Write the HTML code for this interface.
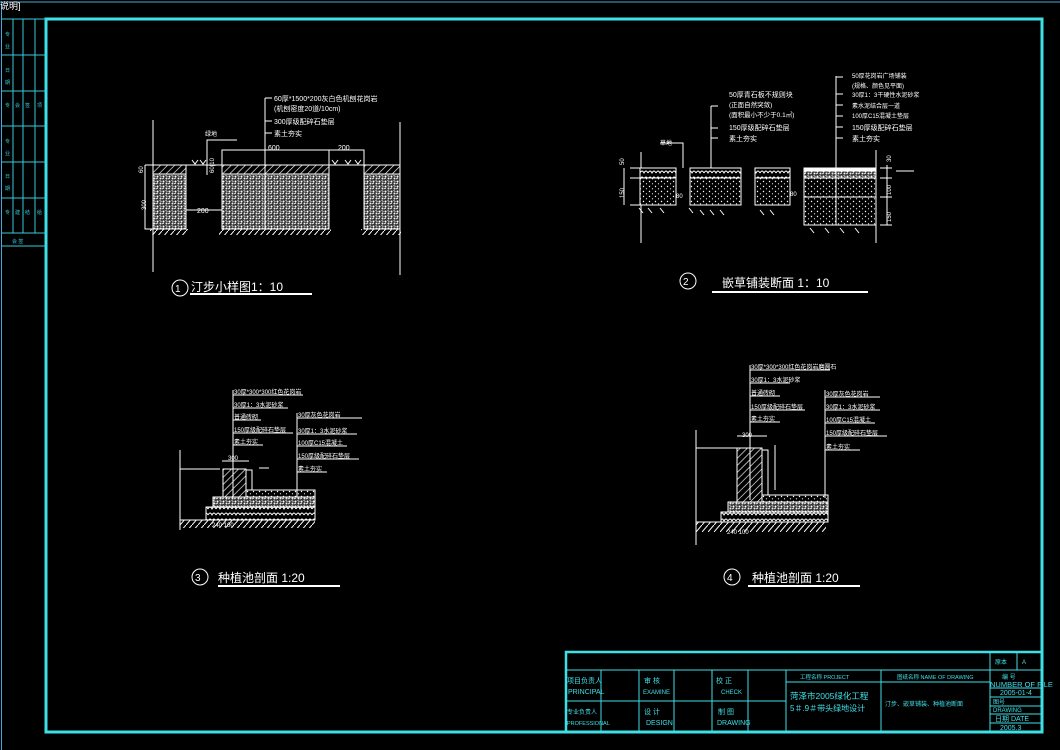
<!DOCTYPE html>
<html><head><meta charset="utf-8"><style>
html,body{margin:0;padding:0;background:#000;}
svg{display:block;}
text{font-family:"Liberation Sans","Noto Sans CJK SC",sans-serif;}
</style></head><body>
<svg width="1060" height="750" viewBox="0 0 1060 750" xmlns="http://www.w3.org/2000/svg">
<defs>
<pattern id="hat" width="5" height="5" patternUnits="userSpaceOnUse" patternTransform="rotate(45)">
<rect width="5" height="5" fill="#000"/><line x1="0" y1="0" x2="0" y2="5" stroke="#fff" stroke-width="1.3"/></pattern>
<pattern id="grav" width="6" height="5" patternUnits="userSpaceOnUse">
<rect width="6" height="5" fill="#333"/><circle cx="1.5" cy="1.5" r="1" fill="#fff"/><circle cx="4.5" cy="3.5" r="1" fill="#eee"/><path d="M0 4 l2 -1 M3.5 0.5 l2 1" stroke="#fff" stroke-width="0.8"/></pattern>
<pattern id="dots" width="6" height="5" patternUnits="userSpaceOnUse">
<rect width="6" height="5" fill="#000"/><circle cx="1.5" cy="1.5" r="0.7" fill="#fff"/><circle cx="4.5" cy="3.8" r="0.6" fill="#fff"/></pattern>
<pattern id="cob" width="8" height="6" patternUnits="userSpaceOnUse">
<rect width="8" height="6" fill="#000"/><path d="M0 5 Q2 1 4 5 Q6 1 8 5" stroke="#fff" fill="none" stroke-width="0.9"/></pattern>
<pattern id="gnd" width="6" height="7" patternUnits="userSpaceOnUse">
<line x1="0" y1="7" x2="6" y2="0" stroke="#fff" stroke-width="1"/></pattern>
</defs>

<line x1="0" y1="2" x2="1060" y2="2" stroke="#4ad" stroke-width="1"/>
<line x1="1.5" y1="2" x2="1.5" y2="750" stroke="#4ad" stroke-width="1"/>
<text x="0" y="9" fill="#fff" font-size="9">说明]</text>
<rect x="46" y="19" width="996" height="713" fill="none" stroke="#3ee0e8" stroke-width="3"/>
<g stroke="#3cd" stroke-width="1" fill="none">
<line x1="2" y1="19" x2="46" y2="19"/>
<line x1="13" y1="19" x2="13" y2="233"/><line x1="23" y1="19" x2="23" y2="233"/><line x1="35" y1="19" x2="35" y2="233"/>
<line x1="2" y1="55" x2="46" y2="55"/><line x1="2" y1="91" x2="46" y2="91"/><line x1="2" y1="126" x2="46" y2="126"/>
<line x1="2" y1="162" x2="46" y2="162"/><line x1="2" y1="198" x2="46" y2="198"/><line x1="2" y1="233" x2="46" y2="233"/><line x1="2" y1="246" x2="46" y2="246"/>
</g>
<g fill="#3cd" font-size="5">
<text x="5" y="36">专</text><text x="5" y="48">业</text><text x="5" y="72">日</text><text x="5" y="84">期</text>
<text x="5" y="107">专</text><text x="15" y="107">会</text><text x="25" y="107">签</text><text x="37" y="107">项</text>
<text x="5" y="143">专</text><text x="5" y="155">业</text><text x="5" y="178">日</text><text x="5" y="190">期</text>
<text x="5" y="214">专</text><text x="15" y="214">建</text><text x="25" y="214">结</text><text x="37" y="214">给</text>
<text x="12" y="243">会 签</text>
</g>

<g stroke="#3ee0e8" fill="none">
<rect x="566" y="652" width="476" height="80" stroke-width="2.5"/>
<g stroke-width="1">
<line x1="566" y1="670" x2="1042" y2="670"/>
<line x1="566" y1="701" x2="786" y2="701"/>
<line x1="786" y1="682" x2="990" y2="682"/>
<line x1="601" y1="670" x2="601" y2="732"/><line x1="639" y1="670" x2="639" y2="732"/>
<line x1="674" y1="670" x2="674" y2="732"/><line x1="712" y1="670" x2="712" y2="732"/>
<line x1="748" y1="670" x2="748" y2="732"/><line x1="786" y1="670" x2="786" y2="732"/>
<line x1="881" y1="670" x2="881" y2="732"/><line x1="990" y1="652" x2="990" y2="732"/>
<line x1="1017" y1="652" x2="1017" y2="670"/>
<line x1="990" y1="688" x2="1042" y2="688"/><line x1="990" y1="697" x2="1042" y2="697"/>
<line x1="990" y1="706" x2="1042" y2="706"/><line x1="990" y1="714" x2="1042" y2="714"/><line x1="990" y1="723" x2="1042" y2="723"/>
</g></g>
<g fill="#3ee0e8" font-size="7">
<text x="567" y="683">项目负责人</text><text x="568" y="694">PRINCIPAL</text>
<text x="567" y="714" font-size="6">专业负责人</text><text x="567" y="725" font-size="5.5">PROFESSIONAL</text>
<text x="644" y="683">审 核</text><text x="643" y="694" font-size="6">EXAMINE</text>
<text x="644" y="714">设 计</text><text x="646" y="725">DESIGN</text>
<text x="716" y="683">校 正</text><text x="721" y="694" font-size="6">CHECK</text>
<text x="718" y="714">制 图</text><text x="717" y="725">DRAWING</text>
<text x="800" y="679" font-size="5.5">工程名称    PROJECT</text>
<text x="897" y="679" font-size="5.5">图纸名称 NAME OF DRAWING</text>
<text x="790" y="699" font-size="8.5">菏泽市2005绿化工程</text>
<text x="790" y="711" font-size="8">5＃.9＃带头绿地设计</text>
<text x="885" y="706" font-size="6">汀步、嵌草铺装、种植池断面</text>
<text x="995" y="664" font-size="6">原本</text><text x="1022" y="664" font-size="6">A</text>
<text x="1002" y="679" font-size="6">编 号</text>
<text x="990" y="687" font-size="7.5">NUMBER OF FILE</text>
<text x="1000" y="695" font-size="7">2005-01-4</text>
<text x="993" y="704" font-size="6">图号</text><text x="993" y="712" font-size="6">DRAWING</text>
<text x="995" y="721" font-size="7">日期 DATE</text><text x="1000" y="730" font-size="7">2005.3</text>
</g>

<g stroke="#fff" fill="none" stroke-width="1">
<line x1="153" y1="120" x2="153" y2="272"/><line x1="400" y1="122" x2="400" y2="275"/>
<rect x="153" y="165" width="33" height="9" fill="url(#hat)"/><rect x="153" y="174" width="33" height="55" fill="url(#grav)"/>
<rect x="222" y="165" width="107" height="9" fill="url(#hat)"/><rect x="222" y="174" width="107" height="55" fill="url(#grav)"/>
<rect x="364" y="165" width="36" height="9" fill="url(#hat)"/><rect x="364" y="174" width="36" height="55" fill="url(#grav)"/>
<rect x="150" y="229" width="38" height="6" fill="url(#gnd)" stroke="none"/>
<rect x="219" y="229" width="112" height="6" fill="url(#gnd)" stroke="none"/>
<rect x="361" y="229" width="40" height="6" fill="url(#gnd)" stroke="none"/>
<line x1="186" y1="165" x2="222" y2="165"/><line x1="329" y1="165" x2="364" y2="165"/>
<polyline points="222,165 222,150 364,150 364,165"/><line x1="329" y1="150" x2="329" y2="165"/>
<line x1="265" y1="98" x2="265" y2="229"/>
<line x1="265" y1="98" x2="272" y2="98"/><line x1="265" y1="121" x2="272" y2="121"/><line x1="265" y1="133" x2="272" y2="133"/>
<polyline points="237,140 207,140 207,175"/>
<line x1="186" y1="210" x2="222" y2="210"/>
<polyline points="145,165 145,229 153,229"/><line x1="145" y1="165" x2="153" y2="165"/>
<path d="M192 160 l3 4 l3 -4 M200 160 l3 4 l3 -4 M332 160 l3 4 l3 -4 M345 160 l3 4 l3 -4 M355 160 l3 4 l3 -4"/>
<circle cx="180" cy="288" r="8"/>
<line x1="190" y1="294" x2="312" y2="294" stroke-width="2"/>

<line x1="641" y1="152" x2="641" y2="243"/><line x1="876" y1="150" x2="876" y2="243"/>
<rect x="640" y="168" width="36" height="10" fill="url(#cob)"/><rect x="640" y="178" width="36" height="27" fill="url(#dots)"/>
<rect x="690" y="168" width="51" height="10" fill="url(#cob)"/><rect x="690" y="178" width="51" height="27" fill="url(#dots)"/>
<rect x="755" y="168" width="35" height="10" fill="url(#cob)"/><rect x="755" y="178" width="35" height="27" fill="url(#dots)"/>
<rect x="804" y="168" width="72" height="3" fill="#fff"/><rect x="804" y="171" width="72" height="7" fill="url(#grav)"/>
<rect x="804" y="178" width="72" height="19" fill="url(#dots)"/><rect x="804" y="197" width="72" height="28" fill="url(#dots)"/>
<line x1="711" y1="106" x2="711" y2="168"/><line x1="836" y1="76" x2="836" y2="225"/>
<line x1="711" y1="106" x2="718" y2="106"/><line x1="711" y1="128" x2="718" y2="128"/><line x1="711" y1="138" x2="718" y2="138"/>
<g>
<line x1="836" y1="77" x2="843" y2="77"/><line x1="836" y1="94" x2="843" y2="94"/><line x1="836" y1="105" x2="843" y2="105"/>
<line x1="836" y1="116" x2="843" y2="116"/><line x1="836" y1="127" x2="843" y2="127"/><line x1="836" y1="138" x2="843" y2="138"/></g>
<polyline points="660,143 683,143 683,168"/>
<path d="M630 168 h10 M630 178 h10 M630 205 h10 M880 168 h12 M880 178 h12 M880 197 h12 M880 225 h12 M896 171 h18"/>
<line x1="624" y1="168" x2="624" y2="205"/><line x1="887" y1="165" x2="887" y2="225"/>
<path d="M639 208 l4 5 M689 208 l4 5 M700 210 l4 5 M710 210 l4 5 M720 210 l4 5 M760 210 l4 5 M770 210 l4 5 M810 228 l4 5 M825 228 l4 5 M840 228 l4 5 M855 228 l4 5 M648 208 l4 5 M660 208 l4 5"/>
<circle cx="688" cy="281" r="8"/>
<line x1="712" y1="292" x2="868" y2="292" stroke-width="2"/>

<line x1="180" y1="450" x2="180" y2="530"/>
<line x1="180" y1="469" x2="220" y2="469"/>
<rect x="223" y="469" width="23" height="29" fill="url(#hat)"/>
<rect x="246" y="470" width="6" height="28"/>
<rect x="246" y="490" width="69" height="7" fill="url(#dots)"/>
<rect x="213" y="497" width="102" height="10" fill="url(#grav)"/>
<rect x="206" y="507" width="109" height="13" fill="url(#cob)"/>
<rect x="180" y="520" width="135" height="8" fill="url(#gnd)" stroke="none"/>
<line x1="180" y1="520" x2="315" y2="520"/>
<line x1="233" y1="390" x2="233" y2="497"/><line x1="297" y1="413" x2="297" y2="497"/>
<path d="M233 395 h70 M233 408 h55 M233 420 h28 M233 433 h60 M233 445 h30 M297 418 h65 M297 434 h60 M297 446 h50 M297 459 h62 M297 472 h30"/>
<path d="M222 461 h27 M259 468 h10"/>
<circle cx="200" cy="577" r="8"/>
<line x1="218" y1="586" x2="340" y2="586" stroke-width="2"/>

<line x1="696" y1="430" x2="696" y2="545"/>
<line x1="696" y1="448" x2="737" y2="448"/>
<rect x="737" y="448" width="25" height="54" fill="url(#hat)"/>
<rect x="762" y="450" width="6" height="52"/>
<rect x="762" y="495" width="66" height="7" fill="url(#dots)"/>
<rect x="728" y="502" width="100" height="10" fill="url(#grav)"/>
<rect x="721" y="512" width="107" height="10" fill="url(#cob)"/>
<rect x="696" y="522" width="130" height="10" fill="url(#gnd)" stroke="none"/>
<line x1="696" y1="522" x2="826" y2="522"/>
<line x1="750" y1="365" x2="750" y2="500"/><line x1="825" y1="390" x2="825" y2="498"/>
<path d="M750 370 h80 M750 383 h40 M750 396 h30 M750 410 h55 M750 422 h30 M825 397 h55 M825 410 h55 M825 423 h50 M825 436 h62 M825 450 h35"/>
<path d="M737 436 h30 M775 445 v45"/>
<circle cx="732" cy="577" r="8"/>
<line x1="748" y1="586" x2="860" y2="586" stroke-width="2"/>
</g>

<g fill="#fff" font-size="7">
<text x="274" y="101">60厚*1500*200灰白色机刨花岗岩</text>
<text x="274" y="111">(机刨密度20道/10cm)</text>
<text x="274" y="124">300厚级配碎石垫层</text>
<text x="274" y="136">素土夯实</text>
<text x="205" y="136" font-size="6">绿地</text>
<text x="268" y="150">600</text><text x="338" y="150">200</text>
<text x="197" y="213">200</text>
<text x="143" y="173" font-size="6" transform="rotate(-90 143 173)">60</text>
<text x="146" y="210" font-size="6" transform="rotate(-90 146 210)">300</text>
<text x="214" y="173" font-size="6" transform="rotate(-90 214 173)">60|10</text>
<text x="175" y="292" font-size="10">1</text>
<text x="191" y="291" font-size="12">汀步小样图1：10</text>
<text x="729" y="97">50厚青石板不规则块</text>
<text x="729" y="107" font-size="6.5">(正面自然突敛)</text>
<text x="729" y="117" font-size="6.5">(面积最小不少于0.1㎡)</text>
<text x="729" y="130">150厚级配碎石垫层</text>
<text x="729" y="141">素土夯实</text>
<text x="852" y="78" font-size="6">50厚花岗岩广场铺装</text>
<text x="852" y="88" font-size="6">(规格、颜色见平面)</text>
<text x="852" y="97" font-size="6">30厚1：3干硬性水泥砂浆</text>
<text x="852" y="108" font-size="6">素水泥结合层一道</text>
<text x="852" y="118" font-size="6">100厚C15混凝土垫层</text>
<text x="852" y="130">150厚级配碎石垫层</text>
<text x="852" y="141">素土夯实</text>
<text x="660" y="145" font-size="6">草地</text>
<text x="676" y="198" font-size="6">80</text><text x="790" y="196" font-size="6">80</text>
<text x="624" y="165" font-size="6" transform="rotate(-90 624 165)">50</text>
<text x="624" y="198" font-size="6" transform="rotate(-90 624 198)">150</text>
<text x="891" y="162" font-size="6" transform="rotate(-90 891 162)">30</text>
<text x="891" y="195" font-size="6" transform="rotate(-90 891 195)">100</text>
<text x="891" y="222" font-size="6" transform="rotate(-90 891 222)">150</text>
<text x="683" y="285" font-size="10">2</text>
<text x="722" y="287" font-size="12">嵌草铺装断面  1：10</text>
<text x="234" y="394" font-size="6">30厚*300*300红色花岗岩</text>
<text x="234" y="407" font-size="6">30厚1：3水泥砂浆</text>
<text x="234" y="419" font-size="6">普通砖砌</text>
<text x="234" y="432" font-size="6">150厚级配碎石垫层</text>
<text x="234" y="444" font-size="6">素土夯实</text>
<text x="298" y="417" font-size="6">30厚灰色花岗岩</text>
<text x="298" y="433" font-size="6">30厚1：3水泥砂浆</text>
<text x="298" y="445" font-size="6">100厚C15混凝土</text>
<text x="298" y="458" font-size="6">150厚级配碎石垫层</text>
<text x="298" y="471" font-size="6">素土夯实</text>
<text x="228" y="460" font-size="6">300</text>
<text x="212" y="527" font-size="6">240  100</text>
<text x="195" y="581" font-size="10">3</text>
<text x="218" y="582" font-size="12">种植池剖面  1:20</text>
<text x="751" y="369" font-size="6">30厚*300*300红色花岗岩磨圆石</text>
<text x="751" y="382" font-size="6">30厚1：3水泥砂浆</text>
<text x="751" y="395" font-size="6">普通砖砌</text>
<text x="751" y="409" font-size="6">150厚级配碎石垫层</text>
<text x="751" y="421" font-size="6">素土夯实</text>
<text x="826" y="396" font-size="6">30厚灰色花岗岩</text>
<text x="826" y="409" font-size="6">30厚1：3水泥砂浆</text>
<text x="826" y="422" font-size="6">100厚C15混凝土</text>
<text x="826" y="435" font-size="6">150厚级配碎石垫层</text>
<text x="826" y="449" font-size="6">素土夯实</text>
<text x="742" y="437" font-size="6">300</text>
<text x="727" y="534" font-size="6">240  100</text>
<text x="727" y="581" font-size="10">4</text>
<text x="752" y="582" font-size="12">种植池剖面 1:20</text>
</g>
</svg>
</body></html>
